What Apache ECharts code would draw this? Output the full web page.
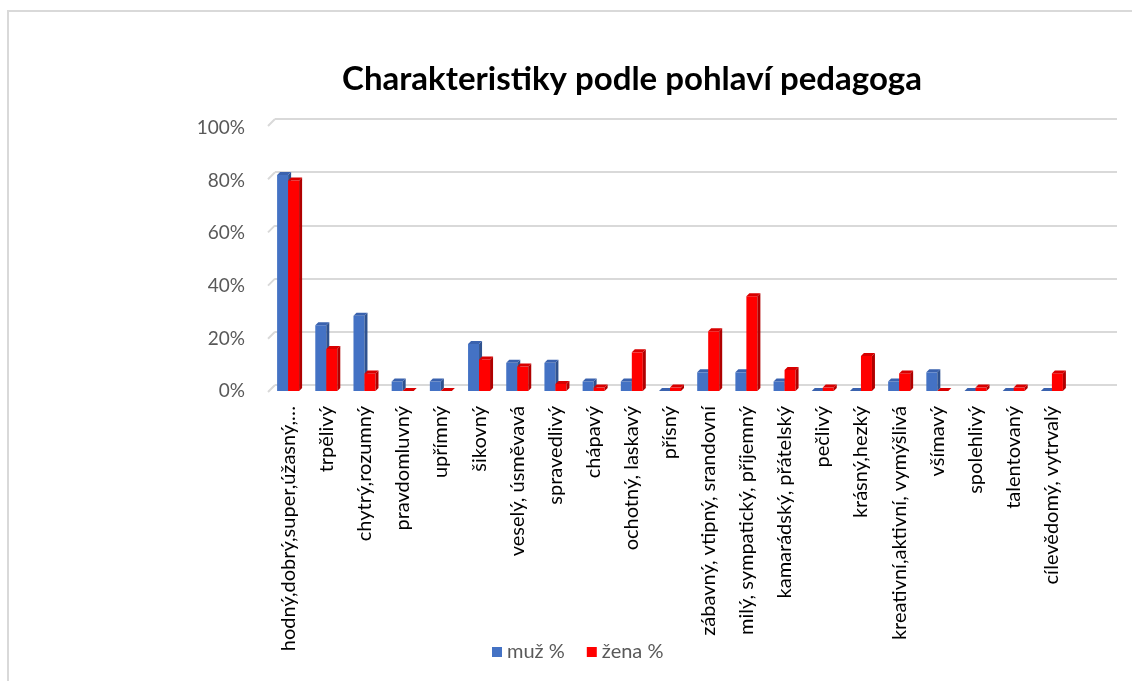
<!DOCTYPE html>
<html>
<head>
<meta charset="utf-8">
<script src="https://cdn.jsdelivr.net/npm/echarts@6/dist/echarts.min.js"></script>
<style>
  html, body { margin: 0; padding: 0; background: #fff; }
  #chart { width: 1132px; height: 681px; }
</style>
</head>
<body>
<div id="chart"></div>
<script>
// kategorie a hodnoty (v %)
const categories = [
  'hodný,dobrý,super,úžasný,…', 'trpělivý', 'chytrý,rozumný', 'pravdomluvný', 'upřímný',
  'šikovný', 'veselý, úsměvavá', 'spravedlivý', 'chápavý', 'ochotný, laskavý',
  'přísný', 'zábavný, vtipný, srandovní', 'milý, sympatický, příjemný', 'kamarádský, přátelský', 'pečlivý',
  'krásný,hezký', 'kreativní,aktivní, vymýšlivá', 'všímavý', 'spolehlivý', 'talentovaný',
  'cílevědomý, vytrvalý'
];
const muz = [82.1, 25.0, 28.6, 3.6, 3.6, 17.9, 10.7, 10.7, 3.6, 3.6, 0, 7.1, 7.1, 3.6, 0, 0, 3.6, 7.1, 0, 0, 0];
const zena = [80.0, 16.0, 6.7, 0, 0, 12.0, 9.3, 2.7, 1.3, 14.7, 1.3, 22.7, 36.0, 8.0, 1.3, 13.3, 6.7, 0, 1.3, 1.3, 6.7];
const yTicks = [0, 20, 40, 60, 80, 100];

const FONT = 'Lato';

// 3D sloupec: predni stena, bok a vrch
function bar3d(front, side, top, offset) {
  return function (params, api) {
    const p0 = api.coord([api.value(0), 0]);
    const p1 = api.coord([api.value(0), api.value(1)]);
    const w = 11, dx = 3, dy = 3;
    const x = p0[0] + offset;
    const yb = p0[1], yt = p1[1];
    return {
      type: 'group',
      children: [
        { type: 'rect', shape: { x: x, y: yt, width: w, height: yb - yt }, style: { fill: front } },
        { type: 'polygon', shape: { points: [[x + w, yt], [x + w + dx, yt - dy], [x + w + dx, yb - dy], [x + w, yb]] }, style: { fill: side } },
        { type: 'polygon', shape: { points: [[x, yt], [x + dx, yt - dy], [x + w + dx, yt - dy], [x + w, yt]] }, style: { fill: top } }
      ]
    };
  };
}

const chart = echarts.init(document.getElementById('chart'));
chart.setOption({
  animation: false,
  color: ['#4472C4', '#FF0000'],
  title: {
    text: 'Charakteristiky podle pohlaví pedagoga',
    left: 627,
    top: 58,
    textAlign: 'center',
    textStyle: { fontFamily: FONT, fontSize: 33, fontWeight: 'bold', color: '#000' }
  },
  legend: {
    data: ['muž %', 'žena %'],
    left: 492,
    top: 642,
    padding: 0,
    icon: 'rect',
    itemWidth: 10,
    itemHeight: 10,
    itemGap: 22,
    textStyle: { fontFamily: FONT, fontSize: 20, color: '#595959' }
  },
  graphic: [{
    type: 'rect',
    silent: true,
    shape: { x: 8, y: 11, width: 1140, height: 700 },
    style: { fill: 'none', stroke: '#d9d9d9', lineWidth: 2 }
  }],
  grid: [
    { left: 269, right: 61, top: 128, bottom: 290 },
    { left: 275, right: 15, top: 119, bottom: 296 }
  ],
  xAxis: [{
    type: 'category',
    gridIndex: 0,
    data: categories,
    axisLine: { show: false },
    axisTick: { show: false },
    axisLabel: {
      interval: 0,
      rotate: 90,
      margin: 15,
      fontFamily: FONT,
      fontSize: 20,
      color: '#000'
    }
  }, {
    type: 'value',
    gridIndex: 1,
    min: 0,
    max: 1,
    show: false
  }],
  yAxis: [{
    type: 'value',
    gridIndex: 0,
    min: 0,
    max: 100,
    interval: 20,
    axisLine: { show: false },
    axisTick: { show: false },
    splitLine: { show: false },
    axisLabel: {
      formatter: '{value}%',
      margin: 24,
      fontFamily: FONT,
      fontSize: 19,
      color: '#595959'
    }
  }, {
    type: 'value',
    gridIndex: 1,
    min: 0,
    max: 100,
    interval: 20,
    axisLine: { show: false },
    axisTick: { show: false },
    axisLabel: { show: false },
    splitLine: { lineStyle: { color: '#d9d9d9', width: 2 } }
  }],
  series: [
    {
      name: 'gridStubs',
      type: 'custom',
      xAxisIndex: 1,
      yAxisIndex: 1,
      silent: true,
      data: yTicks.map(v => [0, v]),
      renderItem: function (params, api) {
        const p = api.coord([0, api.value(1)]);
        return {
          type: 'line',
          shape: { x1: p[0] - 7, y1: p[1] + 7, x2: p[0], y2: p[1] },
          style: { stroke: '#d9d9d9', lineWidth: 2 }
        };
      }
    },
    {
      name: 'muž %',
      type: 'custom',
      itemStyle: { color: '#4472C4' },
      data: muz.map((v, i) => [i, v]),
      encode: { x: 0, y: 1 },
      renderItem: bar3d('#4472C4', '#2F528F', '#3A62AE', -11)
    },
    {
      name: 'žena %',
      type: 'custom',
      itemStyle: { color: '#FF0000' },
      data: zena.map((v, i) => [i, v]),
      encode: { x: 0, y: 1 },
      renderItem: bar3d('#FF0000', '#B00000', '#D80000', 0)
    }
  ]
});
</script>
</body>
</html>
